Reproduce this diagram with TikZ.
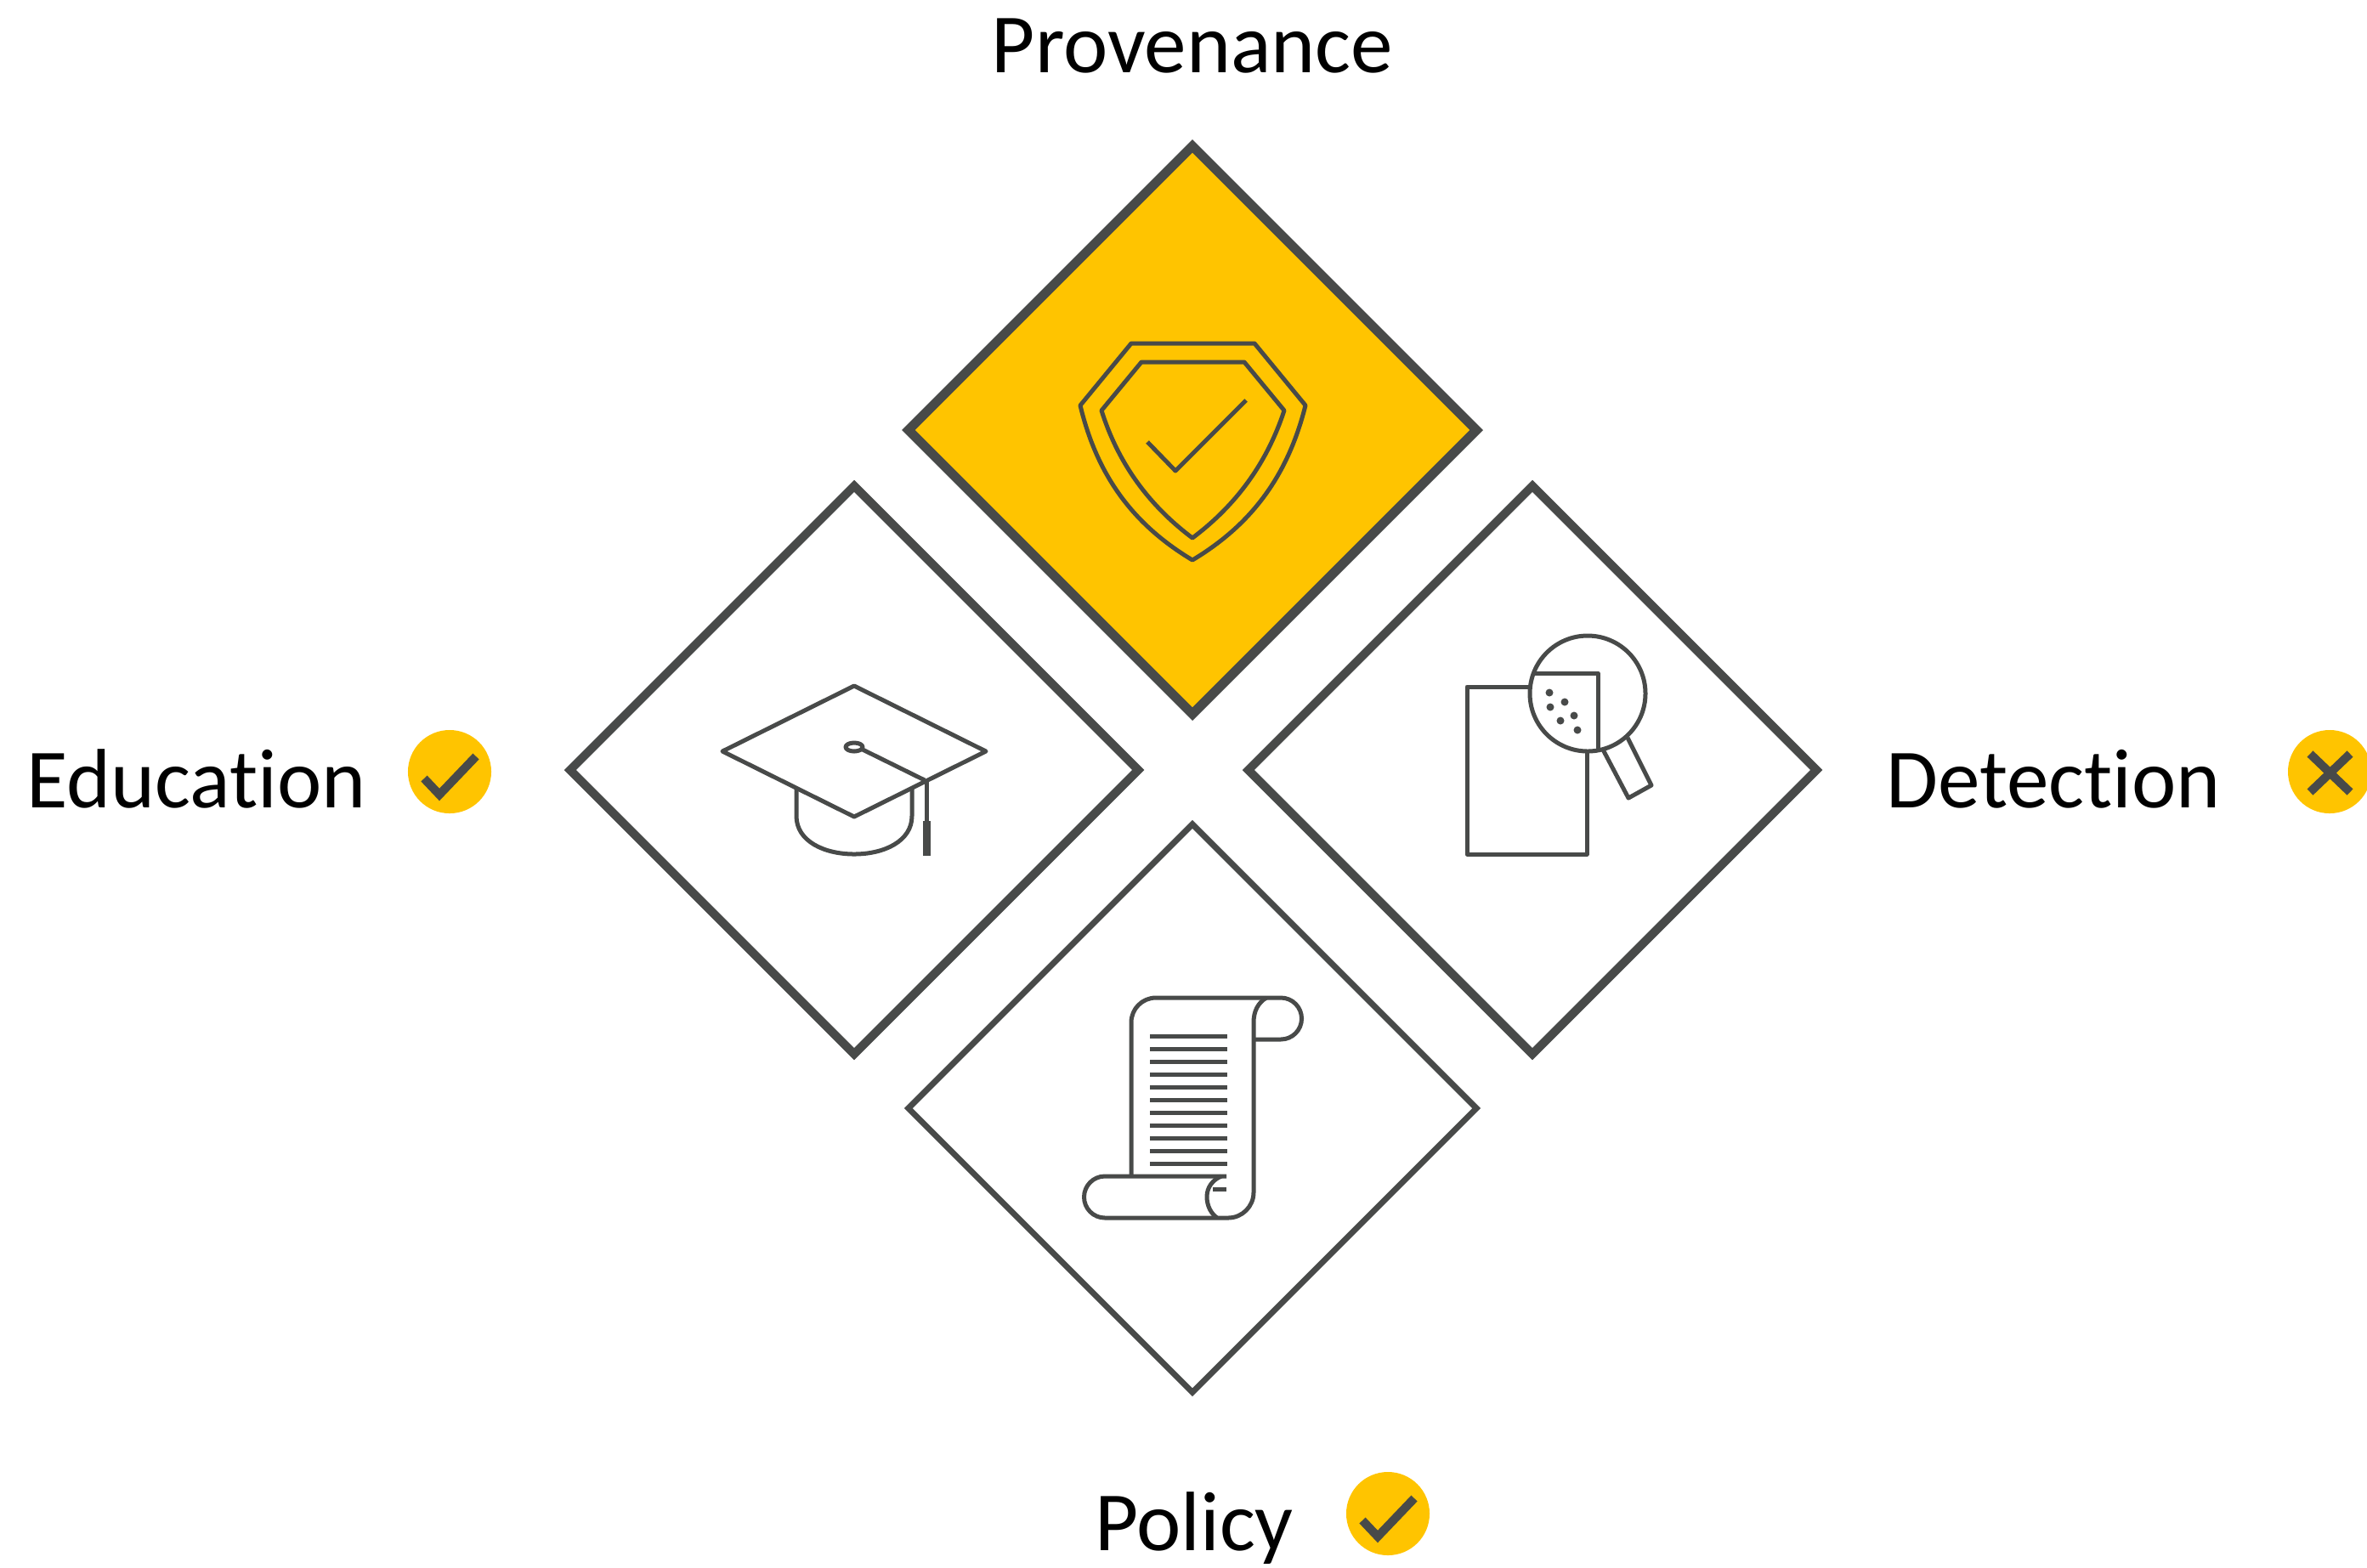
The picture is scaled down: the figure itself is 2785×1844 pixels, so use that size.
\documentclass[tikz,border=0pt]{standalone}
\usepackage{fontspec}
\setmainfont{Carlito}[RawFeature={-liga}]
\usetikzlibrary{shapes.geometric}
\definecolor{markgold}{HTML}{FFC400}
\definecolor{icongrey}{HTML}{484A49}
\begin{document}
\begin{tikzpicture}
[x=0.01cm,y=-0.01cm,
  tiledecorate/.style={shape=diamond,aspect=1,draw=icongrey,
    minimum size=6.68cm,inner sep=0pt,outer sep=0pt},%
  labeldecorate/.style={anchor=base,text=black,font=\fontsize{28.2}{33}\selectfont},%
  markdecorate/.style={shape=circle,fill=markgold,minimum size=0.98cm,inner sep=0pt},%
  strokedecorate/.style={draw=icongrey,line width=0.1cm},%
  icondecorate/.style={draw=icongrey,line width=0.05cm,line join=round}]
\useasboundingbox (0,0) rectangle (2785,1844);
%% tiles
\foreach \nodename/\x/\y/\tint/\thick in {
  provenance/1403/506/markgold/0.11cm, education/1005/906/white/0.1cm,
  detection/1803/906/white/0.1cm, policy/1403/1304/white/0.07cm}
{
  \node (\nodename) at (\x,\y) [tiledecorate,fill=\tint,line width=\thick] {};
}
%% labels
\foreach \nodename/\x/\y/\caption in {
  provenancelabel/1403/85/Provenance, educationlabel/231/950/Education,
  detectionlabel/2416/950/Detection, policylabel/1405/1824/Policy}
{
  \node (\nodename) at (\x,\y) [labeldecorate] {\caption};
}
%% marks
\foreach \nodename/\x/\y in {educationmark/529/908, policymark/1633/1781, detectionmark/2741/908}
{
  \node (\nodename) at (\x,\y) [markdecorate] {};
}
\foreach \nodename in {educationmark, policymark}
{
  \draw[strokedecorate,shift={(\nodename)}] (-30,8) -- (-12,27) -- (31,-18);
}
\draw[strokedecorate,shift={(detectionmark)}] (-23,-21) -- (24,24) (24,-21) -- (-23,24);
%% shield
\draw[icondecorate] (1331,404) -- (1476,404) -- (1536,477)
  .. controls (1514,565) and (1468,620) .. (1403,659)
  .. controls (1338,620) and (1292,565) .. (1271,477) -- cycle;
\draw[icondecorate] (1343,426) -- (1464,426) -- (1511,483)
  .. controls (1488,553) and (1447,600) .. (1403,633)
  .. controls (1359,600) and (1318,553) .. (1296,483) -- cycle;
\draw[icondecorate] (1350,520) -- (1383,554) -- (1466,471);
%% cap
\draw[icondecorate] (1005,807) -- (1160,884) -- (1005,961) -- (850,884) -- cycle;
\draw[icondecorate] (937,927) -- (937,960) .. controls (937,990) and (970,1005) .. (1005,1005)
  .. controls (1040,1005) and (1073,990) .. (1073,960) -- (1073,928);
\draw[icondecorate] (1005,879) ellipse (10 and 5);
\draw[icondecorate] (1015,882) -- (1088,918);
\draw[icondecorate] (1090,918) -- (1090,967);
\draw[icondecorate,line width=0.09cm] (1090,966) -- (1090,1007);
%% scroll
\draw[icondecorate] (1331,1384) -- (1331,1203) arc[start angle=180,end angle=270,radius=29]
  -- (1507,1174) arc[start angle=270,end angle=450,radius=24.5] -- (1475,1223);
\draw[icondecorate] (1490,1174) .. controls (1480,1180) and (1475,1190) .. (1475,1203)
  -- (1475,1403) arc[start angle=0,end angle=90,radius=30] -- (1300,1433)
  arc[start angle=90,end angle=270,radius=24.5] -- (1443,1384);
\draw[icondecorate] (1437,1384) .. controls (1427,1388) and (1420,1397) .. (1420,1408)
  .. controls (1420,1419) and (1425,1428) .. (1432,1433);
\draw[icondecorate] (1427,1399) -- (1443,1399);
\foreach \row in {0,...,10}
{
  \draw[icondecorate] (1353,1219+15*\row) -- (1444,1219+15*\row);
}
%% magnifier
\draw[icondecorate] (1800,808) -- (1726,808) -- (1726,1005) -- (1867,1005) -- (1867,883);
\draw[icondecorate] (1868,816) circle (68);
\draw[icondecorate] (1805,792) -- (1880,792) -- (1880,882);
\draw[icondecorate] (1886,882) -- (1916,939) -- (1943,924) -- (1915,868);
\foreach \x/\y in {1823/815, 1841/826, 1824/832, 1852/842, 1836/848, 1856/859}
{
  \fill[icongrey] (\x,\y) circle (4.5);
}
\end{tikzpicture}
\end{document}
